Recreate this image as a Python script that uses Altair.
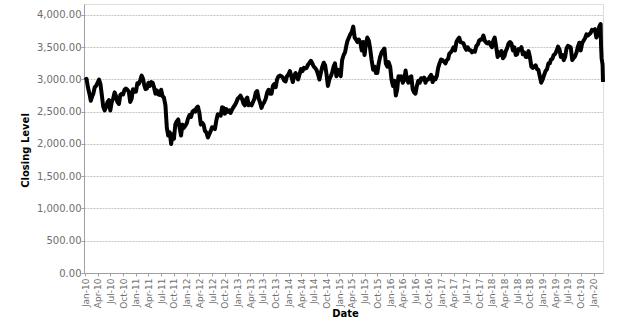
import altair as alt
import pandas as pd

# Closing levels, three readings per month (1st, 11th, 21st)
years = list(range(2010, 2021))
days = [1, 11, 21]

v2010 = [2990, 3010, 2880, 2780, 2670, 2740, 2780, 2880, 2900, 2950, 3000, 2930,
         2760, 2580, 2520, 2570, 2650, 2680, 2520, 2650, 2700, 2800, 2740, 2650,
         2620, 2760, 2780, 2770, 2840, 2860, 2840, 2810, 2650, 2700, 2850, 2810]
v2011 = [2810, 2940, 2930, 2990, 3060, 3010, 2920, 2850, 2860, 2950, 2900, 2960,
         2950, 2880, 2780, 2830, 2770, 2760, 2840, 2740, 2720, 2600, 2250, 2130,
         2180, 2000, 2150, 2080, 2300, 2350, 2380, 2250, 2130, 2300, 2250, 2280]
v2012 = [2320, 2400, 2450, 2420, 2500, 2520, 2500, 2560, 2580, 2480, 2300, 2330,
         2300, 2200, 2180, 2100, 2150, 2200, 2260, 2250, 2230, 2370, 2460, 2450,
         2440, 2570, 2560, 2470, 2540, 2500, 2520, 2480, 2530, 2570, 2600, 2640]
v2013 = [2700, 2720, 2750, 2700, 2630, 2600, 2690, 2720, 2600, 2620, 2600, 2650,
         2700, 2800, 2820, 2700, 2640, 2560, 2620, 2650, 2700, 2800, 2840, 2780,
         2780, 2900, 2930, 2880, 3000, 3050, 3060, 3050, 3030, 2980, 2970, 3050]
v2014 = [3080, 3130, 3050, 2960, 3060, 3100, 3060, 3000, 3080, 3160, 3130, 3180,
         3170, 3180, 3230, 3260, 3290, 3250, 3200, 3180, 3150, 3080, 3000, 3100,
         3200, 3260, 3220, 3080, 2900, 3000, 3050, 3110, 3200, 3250, 3050, 3150]
v2015 = [3120, 3050, 3300, 3380, 3420, 3530, 3600, 3650, 3700, 3740, 3820, 3650,
         3620, 3580, 3620, 3570, 3450, 3580, 3380, 3550, 3650, 3600, 3470, 3300,
         3150, 3200, 3100, 3100, 3250, 3350, 3420, 3450, 3480, 3250, 3200, 3270]
v2016 = [3200, 3000, 2900, 2980, 2750, 2850, 3050, 3000, 3050, 2950, 3000, 3140,
         3000, 2950, 3030, 3050, 2850, 2800, 2780, 2900, 2980, 2950, 3020, 3000,
         3030, 2950, 3000, 3000, 3040, 3070, 2960, 3030, 3000, 3050, 3180, 3250]
v2017 = [3310, 3300, 3280, 3250, 3300, 3320, 3400, 3420, 3450, 3500, 3450, 3580,
         3620, 3650, 3580, 3570, 3560, 3500, 3460, 3500, 3460, 3450, 3420, 3440,
         3430, 3520, 3540, 3600, 3620, 3620, 3680, 3600, 3570, 3560, 3580, 3540]
v2018 = [3500, 3600, 3650, 3500, 3350, 3420, 3380, 3440, 3330, 3360, 3440, 3490,
         3560, 3580, 3560, 3450, 3500, 3380, 3390, 3470, 3460, 3500, 3390, 3420,
         3350, 3350, 3440, 3350, 3200, 3180, 3200, 3220, 3160, 3150, 3050, 2950]
v2019 = [3000, 3070, 3130, 3160, 3250, 3250, 3310, 3320, 3380, 3400, 3450, 3510,
         3470, 3350, 3380, 3300, 3350, 3480, 3520, 3510, 3500, 3300, 3330, 3360,
         3420, 3510, 3570, 3450, 3560, 3600, 3640, 3700, 3680, 3700, 3720, 3770]
v2020 = [3760, 3780, 3650, 3700, 3820, 3860]
tail_dates = ["2020-02-24", "2020-02-28", "2020-03-06", "2020-03-09"]
tail_values = [3530, 3330, 3230, 2960]

series = [v2010, v2011, v2012, v2013, v2014, v2015, v2016, v2017, v2018, v2019, v2020]
dates, values = [], []
for y, vals in zip(years, series):
    for i, v in enumerate(vals):
        m = i // 3 + 1
        d = days[i % 3]
        dates.append(f"{y}-{m:02d}-{d:02d}")
        values.append(v)
dates += tail_dates
values += tail_values

df = pd.DataFrame({"Date": dates, "Close": values})

tick_dates = [alt.DateTime(year=y, month=m, date=1, utc=True)
              for y in range(2010, 2021) for m in (1, 4, 7, 10)
              if not (y == 2020 and m > 1)]
y_ticks = [0, 500, 1000, 1500, 2000, 2500, 3000, 3500, 4000]

FONT = "DejaVu Sans"

chart = alt.Chart(df).mark_line(color="black", strokeWidth=4, strokeJoin="round").encode(
    x=alt.X("Date:T",
            scale=alt.Scale(type="utc",
                            domain=[alt.DateTime(year=2009, month=12, date=24, utc=True),
                                    alt.DateTime(year=2020, month=3, date=9, utc=True)]),
            axis=alt.Axis(values=tick_dates,
                          labelExpr="utcFormat(datum.value, '%b-%y')",
                          labelAngle=270, labelAlign="right", labelBaseline="middle",
                          labelFont=FONT, labelFontSize=9, labelColor="#6e6e6e",
                          labelPadding=2, tickSize=3, tickColor="#a0a0a0",
                          domainColor="#a0a0a0", grid=False,
                          labelOverlap=False,
                          title="Date", titleFont=FONT, titleFontSize=10,
                          titleFontWeight="bold", titleColor="black",
                          titleX=261, titleY=40, titleAlign="center",
                          titleBaseline="middle")),
    y=alt.Y("Close:Q",
            scale=alt.Scale(domain=[0, 4170], nice=False, zero=True),
            axis=alt.Axis(values=y_ticks, format=",.2f",
                          labelFont=FONT, labelFontSize=10, labelColor="#6e6e6e",
                          labelPadding=0, tickSize=3, tickColor="#a0a0a0",
                          domainColor="#a0a0a0",
                          grid=True, gridColor="#c4c4c4", gridDash=[2, 1],
                          gridWidth=1,
                          title="Closing Level", titleFont=FONT, titleFontSize=10,
                          titleFontWeight="bold", titleColor="black",
                          titleAngle=270, titleX=-59, titleY=146,
                          titleAlign="center", titleBaseline="middle")),
).properties(
    width=519, height=269,
    autosize=alt.AutoSizeParams(type="none"),
    padding={"left": 84, "top": 4, "right": 38, "bottom": 51},
).configure_view(
    stroke="#a6a6a6", strokeWidth=1
).configure(background="white")

chart.save("out.html", embed_options={"renderer": "svg", "actions": False})
